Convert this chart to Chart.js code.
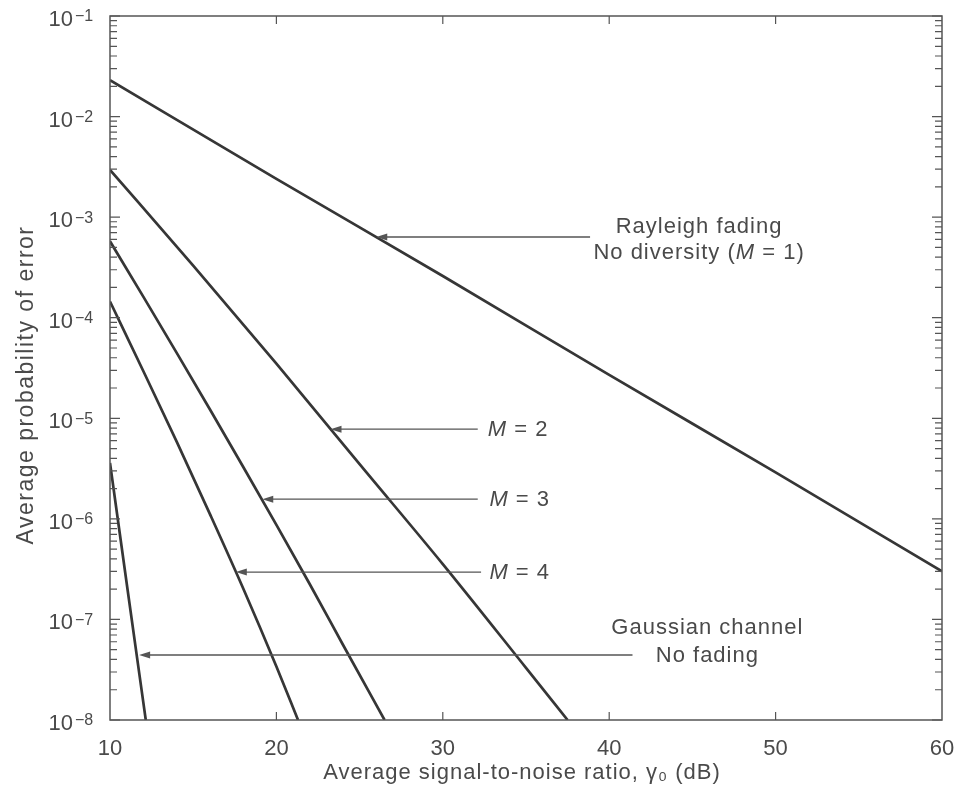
<!DOCTYPE html>
<html>
<head>
<meta charset="utf-8">
<script src="https://cdn.jsdelivr.net/npm/chart.js@4.4.0/dist/chart.umd.min.js"></script>
<style>
  html, body { margin: 0; padding: 0; background: #fff; }
</style>
</head>
<body>
<canvas id="myChart" width="957" height="792"></canvas>
<script>
// x = average SNR per branch (dB), y = average probability of error
var snrM1 = [10, 20, 30, 40, 50, 60];
var pM1 = [2.3e-2, 2.4e-3, 2.6e-4, 2.7e-5, 2.9e-6, 3.0e-7];

var snrM2 = [10, 15, 20, 25, 30, 35, 37.5];
var pM2 = [2.95e-3, 3.3e-4, 3.5e-5, 3.5e-6, 3.55e-7, 3.3e-8, 1.0e-8];

var snrM3 = [10, 12, 14, 16, 18, 20, 22, 24, 26.5];
var pM3 = [5.75e-4, 1.62e-4, 4.5e-5, 1.23e-5, 3.3e-6, 8.7e-7, 2.25e-7, 5.6e-8, 1.0e-8];

var snrM4 = [10, 12, 14, 16, 18, 20, 21.3];
var pM4 = [1.45e-4, 2.95e-5, 5.9e-6, 1.12e-6, 2.04e-7, 3.4e-8, 1.0e-8];

var snrGauss = [10, 11, 12.15];
var pGauss = [3.6e-6, 2.3e-7, 1.0e-8];

var xTicks = [10, 20, 30, 40, 50, 60];
var yExponents = [-1, -2, -3, -4, -5, -6, -7, -8];

var xTitle = "Average signal-to-noise ratio, \u03b3\u2080 (dB)";
var yTitle = "Average probability of error";

var FONT = "'Liberation Sans', Arial, sans-serif";
var lineColor = "#363636";
var axisColor = "#555";
var textColor = "#4a4a4a";

function pts(xs, ys) {
    return xs.map((x, i) => ({ x: x, y: ys[i] }));
}

function series(xs, ys) {
    return {
        data: pts(xs, ys),
        borderColor: lineColor,
        borderWidth: 2.7,
        pointRadius: 0,
        cubicInterpolationMode: "monotone",
        fill: false,
    };
}

// arrows and text labels, given in data units (dB, probability)
var arrows = [
    { x0: 38.85, x1: 26.0, y: 6.35e-4 },
    { x0: 32.1, x1: 23.25, y: 7.8e-6 },
    { x0: 32.1, x1: 19.15, y: 1.57e-6 },
    { x0: 32.3, x1: 17.56, y: 2.96e-7 },
    { x0: 41.4, x1: 11.75, y: 4.43e-8 },
];

var notes = [
    { parts: [["Rayleigh fading", false]], x: 45.4, y: 8.2e-4, align: "center" },
    { parts: [["No diversity (", false], ["M", true], [" = 1)", false]], x: 45.4, y: 4.5e-4, align: "center" },
    { parts: [["M", true], [" = 2", false]], x: 32.7, y: 7.8e-6, align: "left" },
    { parts: [["M", true], [" = 3", false]], x: 32.8, y: 1.57e-6, align: "left" },
    { parts: [["M", true], [" = 4", false]], x: 32.8, y: 3.0e-7, align: "left" },
    { parts: [["Gaussian channel", false]], x: 45.9, y: 8.4e-8, align: "center" },
    { parts: [["No fading", false]], x: 45.9, y: 4.43e-8, align: "center" },
];

function spaced(ctx, px) {
    if ("letterSpacing" in ctx) ctx.letterSpacing = px;
}

// frame, inward ticks, y labels with exponents, titles, arrows and notes
var decor = {
    id: "decor",
    afterDraw(chart) {
        var ctx = chart.ctx;
        var a = chart.chartArea;
        var xs = chart.scales.x;
        var ys = chart.scales.y;
        ctx.save();

        ctx.strokeStyle = axisColor;
        ctx.lineWidth = 1.5;
        ctx.strokeRect(a.left, a.top, a.right - a.left, a.bottom - a.top);

        ctx.lineWidth = 1.2;
        ctx.beginPath();
        yExponents.forEach((e) => {
            var y = ys.getPixelForValue(Math.pow(10, e));
            ctx.moveTo(a.left, y); ctx.lineTo(a.left + 10, y);
            ctx.moveTo(a.right, y); ctx.lineTo(a.right - 10, y);
            if (e > -8) {
                for (var m = 2; m <= 9; m++) {
                    var ym = ys.getPixelForValue(m * Math.pow(10, e - 1));
                    ctx.moveTo(a.left, ym); ctx.lineTo(a.left + 7, ym);
                    ctx.moveTo(a.right, ym); ctx.lineTo(a.right - 7, ym);
                }
            }
        });
        xTicks.forEach((t) => {
            if (t === 10 || t === 60) return;
            var x = xs.getPixelForValue(t);
            ctx.moveTo(x, a.bottom); ctx.lineTo(x, a.bottom - 8);
            ctx.moveTo(x, a.top); ctx.lineTo(x, a.top + 8);
        });
        ctx.stroke();

        // y tick labels: 10 with superscript exponent
        ctx.fillStyle = textColor;
        yExponents.forEach((e) => {
            var y = ys.getPixelForValue(Math.pow(10, e));
            ctx.font = "22px " + FONT;
            ctx.textAlign = "right";
            ctx.textBaseline = "middle";
            ctx.fillText("10", a.left - 37, y + 4);
            ctx.font = "16px " + FONT;
            ctx.textAlign = "left";
            ctx.textBaseline = "top";
            ctx.fillText("\u2212" + Math.abs(e), a.left - 35, y - 7);
        });

        // axis titles
        spaced(ctx, "1px");
        ctx.font = "22px " + FONT;
        ctx.textAlign = "center";
        ctx.textBaseline = "middle";
        ctx.fillText(xTitle, (a.left + a.right) / 2 - 4, 773);
        ctx.save();
        ctx.translate(27, (a.top + a.bottom) / 2 + 17);
        ctx.rotate(-Math.PI / 2);
        spaced(ctx, "1.5px");
        ctx.font = "23px " + FONT;
        ctx.fillText(yTitle, 0, 0);
        ctx.restore();

        // arrows
        ctx.strokeStyle = axisColor;
        ctx.fillStyle = axisColor;
        ctx.lineWidth = 1.3;
        arrows.forEach((ar) => {
            var x0 = xs.getPixelForValue(ar.x0);
            var x1 = xs.getPixelForValue(ar.x1);
            var y = ys.getPixelForValue(ar.y);
            ctx.beginPath();
            ctx.moveTo(x0, y);
            ctx.lineTo(x1 + 8, y);
            ctx.stroke();
            ctx.beginPath();
            ctx.moveTo(x1, y);
            ctx.lineTo(x1 + 11, y - 3.5);
            ctx.lineTo(x1 + 11, y + 3.5);
            ctx.closePath();
            ctx.fill();
        });

        // notes
        ctx.fillStyle = textColor;
        ctx.textBaseline = "middle";
        ctx.textAlign = "left";
        spaced(ctx, "1px");
        notes.forEach((n) => {
            var widths = n.parts.map((p) => {
                ctx.font = (p[1] ? "italic " : "") + "22px " + FONT;
                return ctx.measureText(p[0]).width;
            });
            var total = widths.reduce((s, w) => s + w, 0);
            var x = xs.getPixelForValue(n.x);
            if (n.align === "center") x -= total / 2;
            var y = ys.getPixelForValue(n.y) + 1;
            n.parts.forEach((p, i) => {
                ctx.font = (p[1] ? "italic " : "") + "22px " + FONT;
                ctx.fillText(p[0], x, y);
                x += widths[i];
            });
        });
        ctx.restore();
    },
};

var ctx = document.getElementById("myChart").getContext("2d");

var myChart = new Chart(ctx, {
    type: "line",
    data: {
        datasets: [
            series(snrM1, pM1),
            series(snrM2, pM2),
            series(snrM3, pM3),
            series(snrM4, pM4),
            series(snrGauss, pGauss),
        ],
    },
    options: {
        responsive: false,
        animation: false,
        layout: { padding: { left: 8, top: 16, right: 15, bottom: 0 } },
        plugins: {
            legend: { display: false },
            tooltip: { enabled: false },
        },
        scales: {
            x: {
                type: "linear",
                min: 10,
                max: 60,
                grid: { display: false, drawTicks: false },
                border: { display: false },
                ticks: {
                    stepSize: 10,
                    padding: 16,
                    color: textColor,
                    font: { family: FONT, size: 22 },
                },
                afterFit(s) {
                    s.height = 72;
                    s.paddingLeft = 0;
                    s.paddingRight = 0;
                },
            },
            y: {
                type: "logarithmic",
                min: 1e-8,
                max: 1e-1,
                grid: { display: false, drawTicks: false },
                border: { display: false },
                ticks: { display: false },
                afterFit(s) { s.width = 102; },
            },
        },
    },
    plugins: [decor],
});
</script>
</body>
</html>
